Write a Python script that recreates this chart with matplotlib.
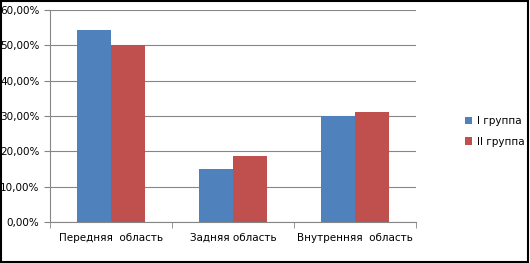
import matplotlib.pyplot as plt
import numpy as np
from matplotlib.ticker import FuncFormatter

# values (shares, %)
categories = ['Передняя  область', 'Задняя область', 'Внутренняя  область']
group1 = [54.4, 15.0, 30.0]
group2 = [50.0, 18.8, 31.1]
labels = ['I группа', 'II группа']

fig = plt.figure(figsize=(5.3, 2.63), dpi=100)
ax = fig.add_axes([0.094, 0.156, 0.691, 0.806])

x = np.arange(len(categories))
w = 0.28
ax.bar(x - w / 2, group1, w, color='#4F81BD', label=labels[0], zorder=3)
ax.bar(x + w / 2, group2, w, color='#C0504D', label=labels[1], zorder=3)

ax.set_ylim(0, 60)
ax.set_xlim(-0.5, 2.5)
ax.set_yticks(np.arange(0, 61, 10))
ax.yaxis.set_major_formatter(FuncFormatter(lambda v, p: ('%.2f%%' % v).replace('.', ',')))
ax.grid(axis='y', color='#868686', linewidth=0.8, zorder=0)

ax.set_xticks(x)
ax.set_xticklabels(categories)
ax.set_xticks([-0.5, 0.5, 1.5, 2.5], minor=True)
ax.tick_params(axis='x', which='major', length=0, labelsize=7.5, pad=8)
ax.tick_params(axis='x', which='minor', length=4, color='#868686')
ax.tick_params(axis='y', length=4, color='#868686', labelsize=7.5)

for s in ['top', 'right']:
    ax.spines[s].set_visible(False)
ax.spines['left'].set_color('#868686')
ax.spines['bottom'].set_color('#868686')

fig.legend(loc='center left', bbox_to_anchor=(0.86, 0.5), frameon=False,
           fontsize=7.5, handlelength=0.7, handleheight=0.7, handletextpad=0.4,
           labelspacing=1.0)

# black frame round the whole picture
fig.patches.append(plt.Rectangle((0.002, 0.004), 0.995, 0.992, transform=fig.transFigure,
                                 fill=False, edgecolor='black', linewidth=1.5))

fig.savefig('out.png', dpi=100)
